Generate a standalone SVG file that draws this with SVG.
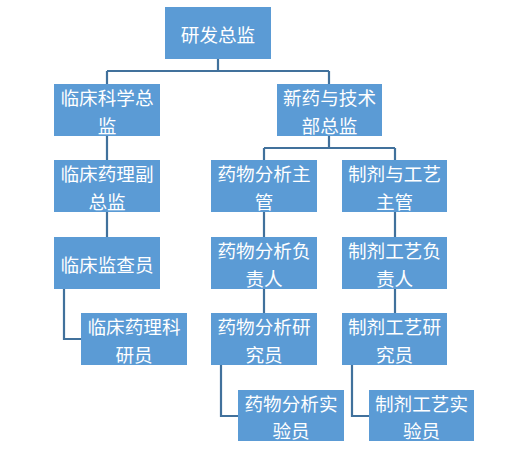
<svg xmlns="http://www.w3.org/2000/svg" width="506" height="453" viewBox="0 0 506 453">
<style>
.box{fill:#5B9BD5}
.t{font-family:"Noto Sans CJK SC","Liberation Serif",serif;font-size:18.6px;fill:#FFFFFF;text-anchor:middle;dominant-baseline:central}
.c{fill:none;stroke:#41719C;stroke-width:2.2}
</style>
<rect width="506" height="453" fill="#FFFFFF"/>
<g id="connectors">
<path class="c" d="M218 59V71M107 71H329M107 71V84M329 71V84"/>
<path class="c" d="M107 136V160M107 212V237M64 289V339H81"/>
<path class="c" d="M329 136V148M264 148H395M264 148V160M395 148V160"/>
<path class="c" d="M264 212V237M264 289V313M221 365V416H238"/>
<path class="c" d="M395 212V237M395 289V313M352 365V416H369"/>
</g>
<g id="n1"><rect class="box" x="165" y="7" width="106" height="52"/><text class="t" x="218" y="33">研发总监</text></g>
<g id="n2"><rect class="box" x="54" y="84" width="106" height="52"/><text class="t"><tspan x="107" y="96.3">临床科学总</tspan><tspan x="107" y="123.7">监</tspan></text></g>
<g id="n3"><rect class="box" x="277" y="84" width="105" height="52"/><text class="t"><tspan x="329.5" y="96.3">新药与技术</tspan><tspan x="329.5" y="123.7">部总监</tspan></text></g>
<g id="n4"><rect class="box" x="54" y="160" width="106" height="52"/><text class="t"><tspan x="107" y="172.3">临床药理副</tspan><tspan x="107" y="199.7">总监</tspan></text></g>
<g id="n5"><rect class="box" x="211" y="160" width="106" height="52"/><text class="t"><tspan x="264" y="172.3">药物分析主</tspan><tspan x="264" y="199.7">管</tspan></text></g>
<g id="n6"><rect class="box" x="342" y="160" width="105" height="52"/><text class="t"><tspan x="394.5" y="172.3">制剂与工艺</tspan><tspan x="394.5" y="199.7">主管</tspan></text></g>
<g id="n7"><rect class="box" x="54" y="237" width="106" height="52"/><text class="t" x="107" y="263">临床监查员</text></g>
<g id="n8"><rect class="box" x="211" y="237" width="106" height="52"/><text class="t"><tspan x="264" y="249.3">药物分析负</tspan><tspan x="264" y="276.7">责人</tspan></text></g>
<g id="n9"><rect class="box" x="342" y="237" width="105" height="52"/><text class="t"><tspan x="394.5" y="249.3">制剂工艺负</tspan><tspan x="394.5" y="276.7">责人</tspan></text></g>
<g id="n10"><rect class="box" x="81" y="313" width="106" height="52"/><text class="t"><tspan x="134" y="325.3">临床药理科</tspan><tspan x="134" y="352.7">研员</tspan></text></g>
<g id="n11"><rect class="box" x="211" y="313" width="106" height="52"/><text class="t"><tspan x="264" y="325.3">药物分析研</tspan><tspan x="264" y="352.7">究员</tspan></text></g>
<g id="n12"><rect class="box" x="342" y="313" width="105" height="52"/><text class="t"><tspan x="394.5" y="325.3">制剂工艺研</tspan><tspan x="394.5" y="352.7">究员</tspan></text></g>
<g id="n13"><rect class="box" x="238" y="390" width="106" height="51"/><text class="t"><tspan x="291" y="401.8">药物分析实</tspan><tspan x="291" y="429.2">验员</tspan></text></g>
<g id="n14"><rect class="box" x="369" y="390" width="105" height="51"/><text class="t"><tspan x="421.5" y="401.8">制剂工艺实</tspan><tspan x="421.5" y="429.2">验员</tspan></text></g>
</svg>
